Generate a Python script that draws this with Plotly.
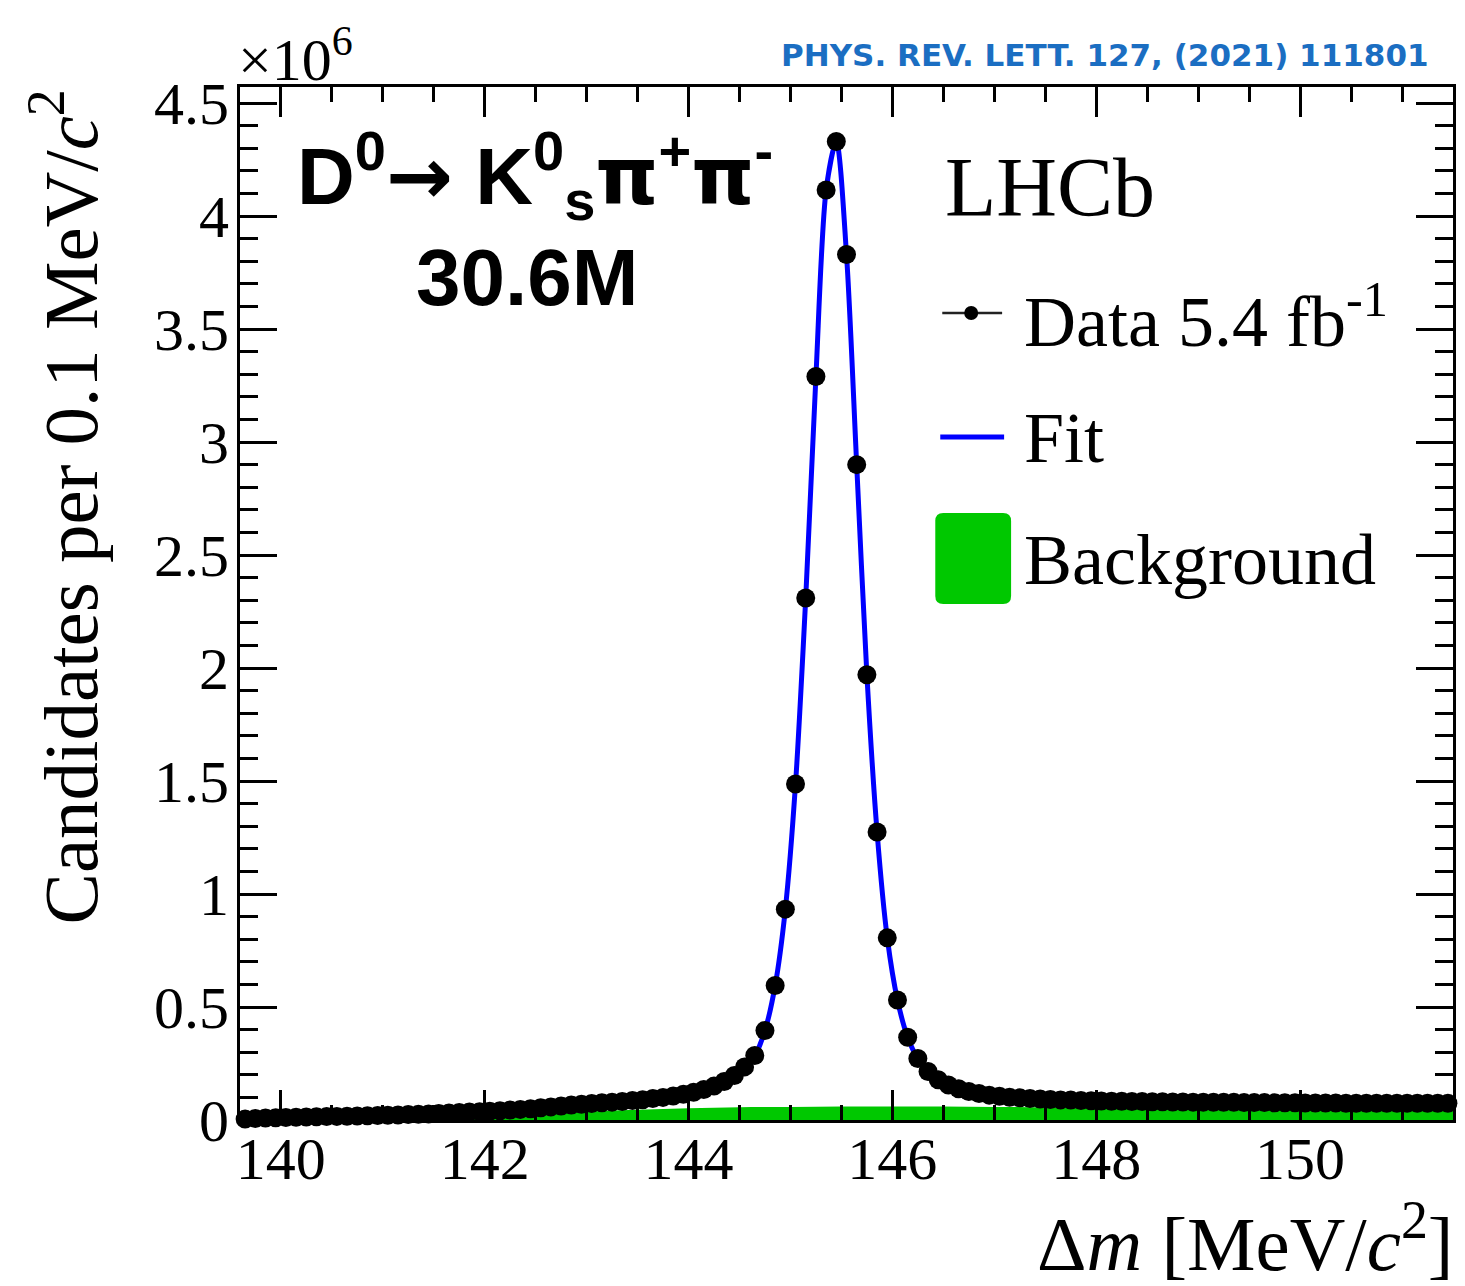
import plotly.graph_objects as go

# Delta-m bin centres (0.1 MeV/c^2 bins) and candidate counts (x 10^6)
dm_centres = [round(139.65 + 0.1 * i, 2) for i in range(119)]
candidates = [
    0.004, 0.007, 0.009, 0.010, 0.011, 0.012, 0.013, 0.014, 0.015, 0.016,   # 139.65-140.55
    0.017, 0.018, 0.019, 0.020, 0.021, 0.022, 0.024, 0.025, 0.027, 0.029,   # 140.65-141.55
    0.031, 0.033, 0.035, 0.037, 0.039, 0.041, 0.044, 0.047, 0.050, 0.054,   # 141.65-142.55
    0.058, 0.062, 0.066, 0.070, 0.073, 0.076, 0.079, 0.082, 0.086, 0.090,   # 142.65-143.55
    0.095, 0.100, 0.106, 0.114, 0.123, 0.135, 0.150, 0.170, 0.197, 0.235,   # 143.65-144.55
    0.285, 0.396, 0.595, 0.933, 1.487, 2.310, 3.290, 4.115, 4.330, 3.830,   # 144.65-145.55
    2.900, 1.970, 1.274, 0.806, 0.531, 0.366, 0.272, 0.215, 0.178, 0.155,   # 145.65-146.55
    0.138, 0.126, 0.117, 0.110, 0.105, 0.101, 0.098, 0.095, 0.093, 0.091,   # 146.65-147.55
    0.089, 0.088, 0.086, 0.085, 0.084, 0.083, 0.083, 0.082, 0.082, 0.081,   # 147.65-148.55
    0.081, 0.080, 0.080, 0.079, 0.079, 0.078, 0.078, 0.078, 0.077, 0.077,   # 148.65-149.55
    0.077, 0.076, 0.076, 0.076, 0.075, 0.075, 0.075, 0.075, 0.074, 0.074,   # 149.65-150.55
    0.074, 0.074, 0.074, 0.074, 0.074, 0.074, 0.074, 0.074, 0.074,          # 150.65-151.45
]

# Fitted total model, sampled at the bin centres
fit_values = candidates

# Background component of the fit (x 10^6)
bkg_dm = [139.60, 140.0, 140.5, 141.0, 141.5, 142.0, 142.5, 143.0, 143.5, 144.0,
          144.5, 145.0, 145.5, 146.0, 146.5, 147.0, 147.5, 148.0, 149.0, 150.0, 151.5]
bkg_values = [0.000, 0.012, 0.018, 0.022, 0.026, 0.030, 0.034, 0.038, 0.045, 0.052,
              0.056, 0.058, 0.060, 0.060, 0.060, 0.058, 0.056, 0.054, 0.052, 0.051, 0.050]

y_tickvals = [0, 0.5, 1, 1.5, 2, 2.5, 3, 3.5, 4, 4.5]
y_ticktext = ["0", "0.5", "1", "1.5", "2", "2.5", "3", "3.5", "4", "4.5"]
x_tickvals = [140, 142, 144, 146, 148, 150]
x_ticktext = ["140", "142", "144", "146", "148", "150"]

W, H = 1465, 1286
PX0, PX1, PY0, PY1 = 240, 1456, 87, 1120   # plot-area frame in pixels


def px(x):
    return (x - PX0) / (PX1 - PX0)


def py(y):
    return (PY1 - y) / (PY1 - PY0)


SERIF = "Liberation Serif, Times New Roman, serif"
SANS = "Liberation Sans, Arial, sans-serif"
GREEN = "#00c800"
BLUE = "#0000ff"

fig = go.Figure()

fig.add_trace(go.Scatter(
    x=bkg_dm, y=bkg_values, mode="lines", line=dict(width=0, color=GREEN, shape="spline"),
    fill="tozeroy", fillcolor=GREEN, hoverinfo="skip", showlegend=False,
))
fig.add_trace(go.Scatter(
    x=dm_centres, y=fit_values, mode="lines",
    line=dict(color=BLUE, width=5, shape="spline", smoothing=0.8),
    showlegend=False,
))
fig.add_trace(go.Scatter(
    x=dm_centres, y=candidates, mode="markers",
    marker=dict(color="black", size=19, line=dict(width=0)),
    cliponaxis=False, showlegend=False,
))

axis_common = dict(
    showline=True, linecolor="black", linewidth=3, mirror="allticks",
    ticks="inside", tickcolor="black", tickwidth=3,
    showgrid=False, zeroline=False,
    tickfont=dict(family=SERIF, size=60, color="black"),
)

fig.update_xaxes(
    range=[139.6, 151.5], tickmode="array", tickvals=x_tickvals, ticktext=x_ticktext,
    ticklen=30, ticklabelstandoff=-16,
    minor=dict(dtick=0.5, tick0=140, ticks="inside", ticklen=15, tickwidth=3, tickcolor="black"),
    **axis_common,
)
fig.update_yaxes(
    range=[0, 4.571], tickmode="array", tickvals=y_tickvals, ticktext=y_ticktext,
    ticklen=37, ticklabelstandoff=-4,
    minor=dict(dtick=0.1, tick0=0, ticks="inside", ticklen=18, tickwidth=3, tickcolor="black"),
    **axis_common,
)

PI = '<span style="font-family:DejaVu Sans">π</span>'
ARROW = '<span style="font-family:DejaVu Sans">→</span>'

annotations = [
    # reference
    dict(x=px(1434), y=py(55), xanchor="right", yanchor="middle",
         text="<b>PHYS. REV. LETT. 127, (2021) 111801</b>",
         font=dict(family="DejaVu Sans", size=31, color="#1b6ec2")),
    # axis exponent
    dict(x=px(236), y=py(56), xanchor="left", yanchor="middle",
         text="×10<sup>6</sup>", font=dict(family=SERIF, size=60, color="black")),
    # decay channel and yield
    dict(x=px(295), y=py(175), xanchor="left", yanchor="middle",
         text="<b>D<sup>0</sup>" + ARROW + " K<sup>0</sup><sub>s</sub>" + PI + "<sup>+</sup>"
              + PI + "<sup>-</sup></b>",
         font=dict(family=SANS, size=80, color="black")),
    dict(x=px(528), y=py(278), xanchor="center", yanchor="middle",
         text="<b>30.6M</b>", font=dict(family=SANS, size=80, color="black")),
    # experiment label
    dict(x=px(945), y=py(187), xanchor="left", yanchor="middle",
         text="LHCb", font=dict(family=SERIF, size=84, color="black")),
    # legend entries
    dict(x=px(1024), y=py(316), xanchor="left", yanchor="middle",
         text="Data 5.4 fb<sup>-1</sup>", font=dict(family=SERIF, size=72, color="black")),
    dict(x=px(1024), y=py(438), xanchor="left", yanchor="middle",
         text="Fit", font=dict(family=SERIF, size=72, color="black")),
    dict(x=px(1024), y=py(560), xanchor="left", yanchor="middle",
         text="Background", font=dict(family=SERIF, size=72, color="black")),
    # axis titles
    dict(x=px(64), y=py(507), xanchor="center", yanchor="middle", textangle=-90,
         text="Candidates per 0.1 MeV/<i>c</i><sup>2</sup>",
         font=dict(family=SERIF, size=77, color="black")),
    dict(x=px(1458), y=py(1238), xanchor="right", yanchor="middle",
         text="Δ<i>m</i> [MeV/<i>c</i><sup>2</sup>]",
         font=dict(family=SERIF, size=77, color="black")),
]
for a in annotations:
    a.update(xref="paper", yref="paper", showarrow=False)

shapes = [
    # data legend marker: horizontal bar with a dot
    dict(type="line", x0=px(944), x1=px(1004), y0=py(313), y1=py(313),
         line=dict(color="#222222", width=2.5)),
    dict(type="circle", x0=px(966), x1=px(980), y0=py(320), y1=py(306),
         fillcolor="black", line=dict(width=0)),
    # fit legend line
    dict(type="line", x0=px(942), x1=px(1006), y0=py(437), y1=py(437),
         line=dict(color=BLUE, width=5)),
    # background legend box
    dict(type="path",
         path=("M {a},{b} L {c},{b} Q {d},{b} {d},{e} L {d},{f} Q {d},{g} {c},{g} "
               "L {a},{g} Q {h},{g} {h},{f} L {h},{e} Q {h},{b} {a},{b} Z").format(
             a=px(945), c=px(1005), d=px(1013), h=px(937),
             b=py(513), e=py(521), f=py(596), g=py(604)),
         fillcolor=GREEN, line=dict(width=0)),
]
for s in shapes:
    s.update(xref="paper", yref="paper")

fig.update_layout(
    width=W, height=H,
    margin=dict(l=PX0, r=W - PX1, t=PY0, b=H - PY1, pad=0),
    paper_bgcolor="white", plot_bgcolor="white",
    showlegend=False,
    annotations=annotations, shapes=shapes,
)

fig.write_html("out.html")
